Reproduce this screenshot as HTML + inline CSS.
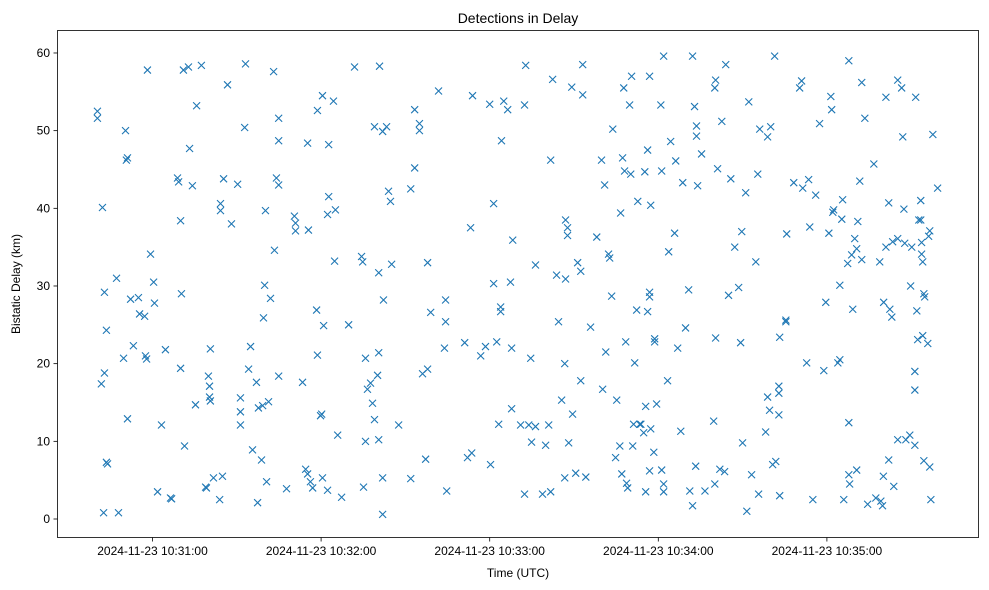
<!DOCTYPE html>
<html><head><meta charset="utf-8"><style>
body{margin:0;background:#fff;}
svg{display:block;font-family:"Liberation Sans","DejaVu Sans",sans-serif;}
</style></head><body>
<svg id="chart" width="989" height="590" viewBox="0 0 989 590">
<text x="518" y="23" font-size="14" text-anchor="middle">Detections in Delay</text>
<text x="518" y="577" font-size="12" text-anchor="middle">Time (UTC)</text>
<text x="20" y="284" font-size="12" text-anchor="middle" transform="rotate(-90 20 284)">Bistatic Delay (km)</text>
<g id="marks"></g>
<g id="axes"></g>
<rect x="57.5" y="30.5" width="921" height="507" fill="none" stroke="#000" stroke-width="0.8"/>
</svg>
<script>
// seconds after 10:30:00 UTC
const timesSec = [40.4,40.4,42.2,41.8,42.9,42.9,42.6,43.6,43.6,44.0,47.2,47.9,49.7,50.4,50.7,51.1,51.1,52.2,53.2,55.0,55.4,57.2,57.5,57.9,58.2,59.3,60.4,60.7,61.8,63.2,64.6,66.4,66.8,68.9,69.3,70.0,70.0,70.3,71.0,71.4,72.8,73.2,74.2,75.3,75.7,77.4,78.9,79.2,79.9,80.3,80.6,80.3,80.6,81.7,83.9,84.9,84.2,84.2,85.3,86.7,88.1,90.3,91.3,91.3,91.3,92.8,93.1,94.2,94.9,95.6,97.0,97.4,97.7,98.8,99.2,99.9,99.5,100.6,102.0,101.3,103.4,103.1,104.1,104.9,104.9,104.9,104.9,107.7,110.5,110.9,110.9,100.2,113.4,114.5,115.2,115.5,116.2,117.0,115.2,118.7,118.7,118.4,119.8,120.2,120.5,122.3,120.5,120.9,122.7,122.3,122.7,124.4,125.1,124.8,125.9,127.3,129.8,131.9,134.4,134.8,135.1,135.8,135.8,136.5,137.6,138.3,139.0,139.0,140.5,140.1,140.5,140.5,141.9,141.9,142.2,143.3,140.8,141.9,144.0,144.7,145.1,147.6,151.9,151.9,153.3,153.3,155.0,155.0,156.1,157.9,157.2,157.9,159.0,161.8,164.3,164.3,163.9,164.7,171.1,172.1,173.6,173.2,173.9,176.8,178.5,180.0,180.3,181.4,182.5,181.4,183.2,183.9,183.9,185.0,184.2,186.4,187.4,187.8,188.2,187.8,191.0,192.4,192.4,192.8,193.9,194.9,194.6,196.3,196.3,198.8,199.9,201.0,201.7,202.4,201.7,203.8,204.5,205.6,206.7,206.7,207.0,207.0,207.7,207.7,209.2,208.1,209.5,210.6,211.3,212.4,212.4,213.1,213.1,214.2,215.9,218.1,219.8,220.2,220.9,221.3,222.3,222.7,223.4,223.8,224.8,225.2,226.3,226.6,227.3,227.0,228.4,227.7,228.0,228.7,229.1,229.8,230.2,230.5,231.6,230.9,231.2,232.3,232.7,233.4,233.8,234.8,235.2,235.5,235.5,236.2,236.2,236.9,236.9,236.9,237.3,236.9,237.3,238.4,238.7,238.7,239.4,240.9,241.2,241.2,241.9,241.9,241.9,243.3,243.7,244.4,245.8,246.2,246.9,248.0,248.7,249.7,250.8,251.2,252.2,252.2,252.9,253.6,253.6,254.0,255.4,253.3,256.6,260.1,259.7,260.1,260.4,260.4,261.1,261.9,262.6,263.6,264.0,265.0,265.8,267.2,268.6,269.3,269.7,270.0,271.1,271.5,272.2,273.2,274.7,275.4,275.7,276.1,278.2,278.9,279.6,280.0,278.9,280.7,281.8,281.4,283.2,282.9,282.9,282.9,283.2,285.4,285.4,285.7,288.2,290.3,291.0,291.4,292.8,293.5,293.9,295.0,296.0,297.4,298.9,299.6,300.7,301.4,301.7,302.1,302.4,303.9,304.6,304.6,305.6,306.0,305.3,307.4,307.8,307.8,307.8,308.1,308.8,309.2,309.9,310.6,310.6,311.0,311.7,312.4,312.4,313.5,314.5,316.7,317.4,319.2,318.8,320.1,319.8,321.0,321.0,322.0,322.0,320.2,322.4,323.1,323.4,323.8,325.2,325.2,325.2,326.6,327.4,327.0,327.7,328.1,329.5,329.8,330.2,331.3,331.3,331.3,331.6,332.0,332.3,332.7,333.4,333.4,333.7,333.7,334.1,334.5,334.8,334.1,334.5,335.9,336.6,336.2,336.6,337.0,337.7,339.4];
const delaysKm = [52.5,51.6,40.1,17.4,18.8,29.2,0.8,24.3,7.3,7.1,31.0,0.8,20.7,50.0,46.2,46.5,12.9,28.3,22.3,28.5,26.4,26.1,21.0,20.6,57.8,34.1,30.5,27.8,3.5,12.1,21.8,2.7,2.6,43.9,43.4,38.4,19.4,29.0,57.8,9.4,58.2,47.7,42.9,14.7,53.2,58.4,4.1,4.0,18.4,17.1,21.9,15.7,15.2,5.3,2.5,5.5,39.7,40.6,43.8,55.9,38.0,43.1,15.6,13.8,12.1,50.4,58.6,19.3,22.2,8.9,17.6,2.1,14.3,7.6,14.6,30.1,25.9,4.8,28.4,15.1,34.6,57.6,43.9,43.0,18.4,51.6,48.7,3.9,39.0,38.1,37.1,39.7,17.6,6.4,5.8,37.2,4.8,4.0,48.4,52.6,21.1,26.9,13.3,13.5,54.5,3.7,5.3,24.9,41.5,39.2,48.2,53.8,39.8,33.2,10.8,2.8,25.0,58.2,33.8,33.1,4.1,10.0,20.7,16.7,17.5,14.9,12.8,50.5,21.4,18.5,10.2,31.7,49.9,5.3,28.2,50.5,58.3,0.6,42.2,40.9,32.8,12.1,5.2,42.5,45.2,52.7,50.9,50.0,18.7,19.3,7.7,33.0,26.6,55.1,25.4,28.2,22.0,3.6,22.7,7.9,8.5,37.5,54.5,21.0,22.2,53.4,7.0,40.6,22.8,30.3,12.2,26.7,27.3,53.8,48.7,52.7,30.5,14.2,35.9,22.0,12.1,3.2,53.3,58.4,12.1,9.9,20.7,32.7,11.9,3.2,9.5,12.1,46.2,56.6,3.5,31.4,25.4,15.3,5.3,20.0,30.9,38.5,36.5,37.5,55.6,9.8,13.5,5.9,33.0,31.9,17.8,54.6,58.5,5.4,24.7,36.3,46.2,16.7,43.0,21.5,34.1,33.6,28.7,50.2,7.9,15.3,9.4,39.4,46.5,5.8,22.8,55.5,44.8,4.6,4.0,53.3,44.4,57.0,20.1,9.4,12.2,26.9,40.9,12.2,12.2,11.1,44.7,3.5,14.5,26.7,47.5,29.2,28.6,57.0,40.4,6.2,11.6,8.6,23.2,22.8,14.8,53.3,44.8,6.3,4.5,3.5,59.6,17.8,34.4,48.6,36.8,46.1,22.0,11.3,43.3,24.6,29.5,3.6,1.7,59.6,53.1,50.6,49.3,42.9,47.0,6.8,3.6,4.5,12.6,55.5,56.5,23.3,45.1,6.4,51.2,6.1,58.5,28.8,43.8,35.0,29.8,22.7,37.0,9.8,42.0,1.0,53.7,5.7,33.1,44.4,3.2,50.2,11.2,15.7,14.0,50.5,49.2,7.0,7.4,59.6,23.4,13.4,16.2,17.1,3.0,25.6,25.4,36.7,43.3,55.5,56.4,42.6,20.1,43.7,37.6,2.5,41.7,50.9,19.1,27.9,36.8,54.4,52.7,39.5,39.8,20.1,20.5,30.1,41.1,2.5,38.6,32.9,59.0,12.4,5.7,4.5,34.0,27.0,36.1,34.8,6.3,38.3,43.5,56.2,33.4,51.6,1.9,45.7,2.7,2.3,33.1,5.5,1.7,54.3,35.0,7.6,40.7,27.9,27.0,26.0,35.7,4.2,56.5,36.1,10.2,55.5,39.9,49.2,35.5,10.2,10.8,30.0,35.0,19.0,16.6,9.5,54.3,26.8,23.1,38.5,41.0,38.5,35.6,34.1,33.1,29.0,28.6,23.6,7.5,22.6,37.1,36.4,6.7,2.5,49.5,42.6];
const xTickSec = [60,120,180,240,300];
const xTickLabels = ["2024-11-23 10:31:00","2024-11-23 10:32:00","2024-11-23 10:33:00","2024-11-23 10:34:00","2024-11-23 10:35:00"];
const yTicks = [0,10,20,30,40,50,60];

const NS = "http://www.w3.org/2000/svg";
function xScale(s){ return 152.5 + (s - 60) * 2.81; }
function yScale(v){ return 519 - v * 7.767; }
const marks = document.getElementById('marks');
const axes = document.getElementById('axes');
function mk(tag, attrs, parent){ const e = document.createElementNS(NS, tag); for (const k in attrs) e.setAttribute(k, attrs[k]); parent.appendChild(e); return e; }

for (let i = 0; i < timesSec.length; i++) {
  const cx = xScale(timesSec[i]), cy = yScale(delaysKm[i]), r = 3.5;
  const p = mk('path', {d:`M${cx-r},${cy-r}L${cx+r},${cy+r}M${cx-r},${cy+r}L${cx+r},${cy-r}`, stroke:'#1f77b4', 'stroke-width':'1.1', fill:'none'}, marks);
  
  
}
xTickSec.forEach((s, i) => {
  const x = xScale(s);
  const t = mk('line', {x1:x, x2:x, y1:537.5, y2:541.5, stroke:'#000', 'stroke-width':'0.8'}, axes);
  
  
  const l = mk('text', {x:x, y:555, 'font-size':'12', 'text-anchor':'middle'}, axes);
  l.textContent = xTickLabels[i];
  
  
});
yTicks.forEach(v => {
  const y = yScale(v);
  const t = mk('line', {x1:53.5, x2:57.5, y1:y, y2:y, stroke:'#000', 'stroke-width':'0.8'}, axes);
  
  
  const l = mk('text', {x:50, y:y+4, 'font-size':'12', 'text-anchor':'end'}, axes);
  l.textContent = v;
  
  
});
</script>
</body></html>
